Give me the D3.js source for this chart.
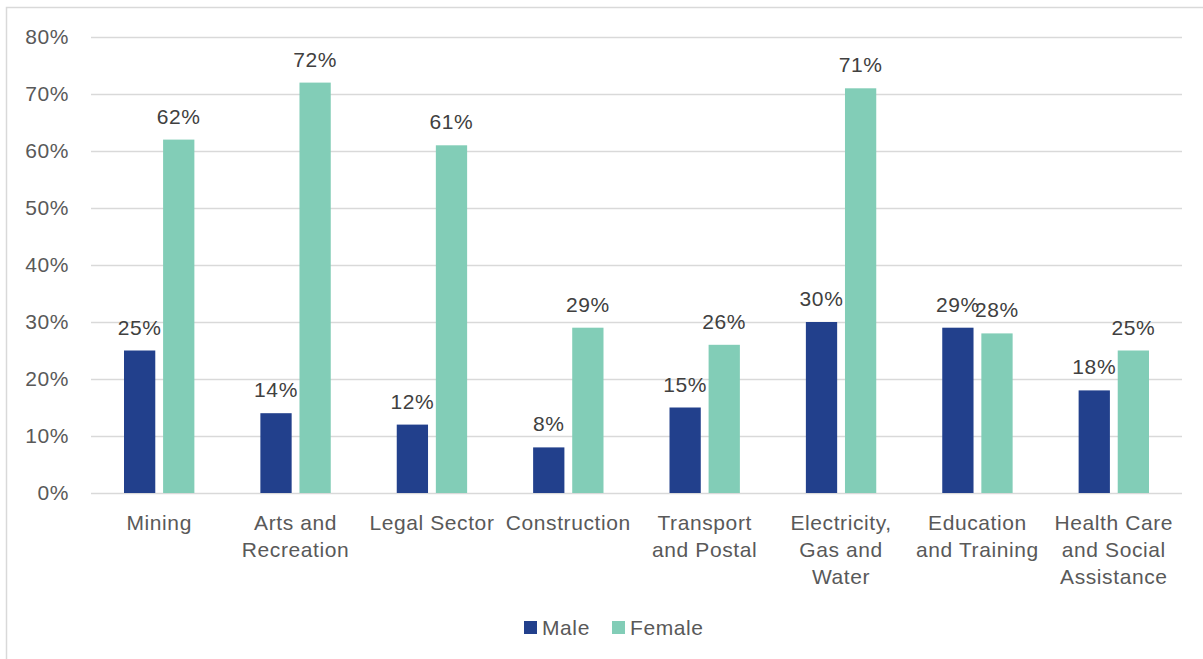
<!DOCTYPE html>
<html>
<head>
<meta charset="utf-8">
<script src="https://cdn.jsdelivr.net/npm/d3@7"></script>
<style>
  html, body { margin: 0; padding: 0; background: #fff; }
  svg { display: block; font-family: "Liberation Sans", Arial, sans-serif; letter-spacing: 0.6px; }
</style>
</head>
<body>
<svg id="chart" width="1203" height="659"></svg>
<script>
// Share of workforce by industry and gender
const categories = [
  ["Mining"],
  ["Arts and", "Recreation"],
  ["Legal Sector"],
  ["Construction"],
  ["Transport", "and Postal"],
  ["Electricity,", "Gas and", "Water"],
  ["Education", "and Training"],
  ["Health Care", "and Social", "Assistance"]
];
const maleValues = [25, 14, 12, 8, 15, 30, 29, 18];
const femaleValues = [62, 72, 61, 29, 26, 71, 28, 25];
const seriesNames = ["Male", "Female"];
const yTicks = [0, 10, 20, 30, 40, 50, 60, 70, 80];

const colors = { Male: "#22408C", Female: "#82CDB7" };
const fontSize = 21;

const svg = d3.select("#chart");

// outer frame
svg.append("rect")
  .attr("x", 6.5).attr("y", 7.5)
  .attr("width", 1203).attr("height", 660)
  .attr("fill", "none").attr("stroke", "#d9d9d9").attr("stroke-width", 1.5);

const plot = { left: 91, right: 1182, top: 37, bottom: 493 };

const x = d3.scaleBand()
  .domain(d3.range(categories.length))
  .range([plot.left, plot.right])
  .padding(0);

const y = d3.scaleLinear().domain([0, 80]).range([plot.bottom, plot.top]);

const inner = d3.scaleBand()
  .domain(seriesNames)
  .range([33, x.bandwidth() - 33])
  .paddingInner(0.2)
  .paddingOuter(0);

// gridlines
svg.append("g")
  .selectAll("line")
  .data(yTicks)
  .join("line")
  .attr("x1", plot.left).attr("x2", plot.right)
  .attr("y1", d => Math.round(y(d)) + 0.5).attr("y2", d => Math.round(y(d)) + 0.5)
  .attr("stroke", "#d9d9d9").attr("stroke-width", 1.5);

// y axis labels
svg.append("g")
  .selectAll("text")
  .data(yTicks)
  .join("text")
  .attr("x", 69).attr("y", d => y(d))
  .attr("dy", "0.35em")
  .attr("text-anchor", "end")
  .attr("font-size", fontSize)
  .attr("fill", "#595959")
  .text(d => d + "%");

const series = seriesNames.map(name => ({
  name,
  values: name === "Male" ? maleValues : femaleValues
}));

const groups = svg.append("g")
  .selectAll("g")
  .data(series)
  .join("g")
  .attr("fill", d => colors[d.name]);

groups.selectAll("rect")
  .data(d => d.values.map((v, i) => ({ name: d.name, v, i })))
  .join("rect")
  .attr("x", d => x(d.i) + inner(d.name))
  .attr("width", inner.bandwidth())
  .attr("y", d => y(d.v))
  .attr("height", d => y(0) - y(d.v));

// value labels
svg.append("g")
  .selectAll("text")
  .data(series.flatMap(s => s.values.map((v, i) => ({ name: s.name, v, i }))))
  .join("text")
  .attr("x", d => x(d.i) + inner(d.name) + inner.bandwidth() / 2)
  .attr("y", d => y(d.v) - 16)
  .attr("text-anchor", "middle")
  .attr("font-size", fontSize)
  .attr("fill", "#404040")
  .text(d => d.v + "%");

// category labels
const cat = svg.append("g")
  .selectAll("text")
  .data(categories)
  .join("text")
  .attr("x", (d, i) => x(i) + x.bandwidth() / 2)
  .attr("y", 530)
  .attr("text-anchor", "middle")
  .attr("font-size", fontSize)
  .attr("fill", "#595959");
cat.selectAll("tspan")
  .data(d => d)
  .join("tspan")
  .attr("x", function () { return d3.select(this.parentNode).attr("x"); })
  .attr("dy", (d, i) => i === 0 ? 0 : 27)
  .text(d => d);

// legend
const legendItems = [
  { name: "Male", x: 524 },
  { name: "Female", x: 612 }
];
const legend = svg.append("g")
  .selectAll("g")
  .data(legendItems)
  .join("g")
  .attr("transform", d => `translate(${d.x},628)`);
legend.append("rect")
  .attr("x", 0).attr("y", -7)
  .attr("width", 13).attr("height", 13)
  .attr("fill", d => colors[d.name]);
legend.append("text")
  .attr("x", 18).attr("y", 0)
  .attr("dy", "0.35em")
  .attr("font-size", fontSize)
  .attr("fill", "#595959")
  .text(d => d.name);
</script>
</body>
</html>
